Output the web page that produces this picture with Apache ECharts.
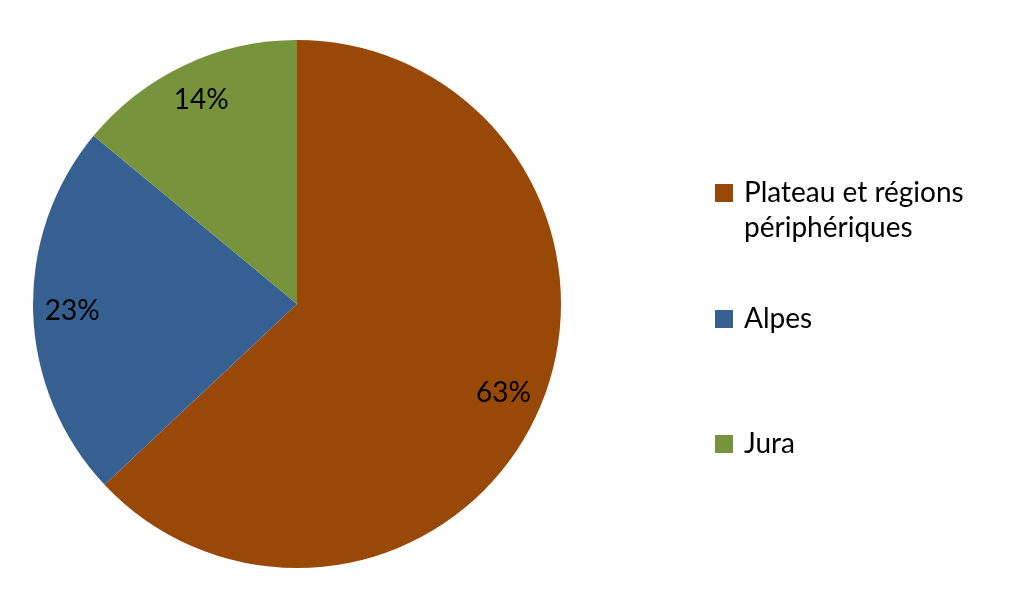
<!DOCTYPE html>
<html>
<head>
<meta charset="utf-8">
<script src="https://cdn.jsdelivr.net/npm/echarts@6/dist/echarts.min.js"></script>
<style>html,body{margin:0;padding:0;background:#fff}#c{width:1024px;height:604px}</style>
</head>
<body>
<div id="c"></div>
<script>
const categories = ['Plateau et régions\npériphériques', 'Alpes', 'Jura'];
const values = [63, 23, 14];
const colors = ['#984807', '#376092', '#77933C'];

const data = categories.map((n, i) => ({ name: n, value: values[i], itemStyle: { color: colors[i] } }));
const font = 'Lato, "Open Sans", sans-serif';
const chart = echarts.init(document.getElementById('c'), null, { renderer: 'canvas' });

// legend boxes: first item has a two-line label; icon aligned with first line
const legendTops = [175.5, 301.5, 426.5];
chart.setOption({
  animation: false,
  legend: categories.map((n, i) => ({
    data: [n],
    orient: 'vertical',
    left: 715,
    top: legendTops[i],
    padding: 0,
    icon: i === 0 ? 'path://M0,0L18,0L18,18L0,18Z M24,53L24.01,53' : 'path://M0,0L18,0L18,18L0,18Z M24,18L24.01,18',
    itemWidth: 24,
    itemHeight: i === 0 ? 53 : 18,
    itemGap: 10,
    selectedMode: false,
    textStyle: { fontFamily: font, fontSize: 28, color: '#000', lineHeight: 35 }
  })),
  series: [
    {
      type: 'pie',
      center: [297, 304],
      radius: [0, 264],
      startAngle: 90,
      clockwise: true,
      label: { show: false },
      labelLine: { show: false },
      data: data
    },
    {
      type: 'pie',
      center: [297, 304],
      radius: [180, 264],
      startAngle: 90,
      clockwise: true,
      silent: true,
      itemStyle: { color: 'rgba(0,0,0,0)' },
      label: { show: true, position: 'inside', formatter: '{c}%', fontFamily: font, fontSize: 28, color: '#000' },
      labelLine: { show: false },
      data: categories.map((n, i) => ({ name: n, value: values[i], itemStyle: { color: 'rgba(0,0,0,0)' } }))
    }
  ]
});
</script>
</body>
</html>
